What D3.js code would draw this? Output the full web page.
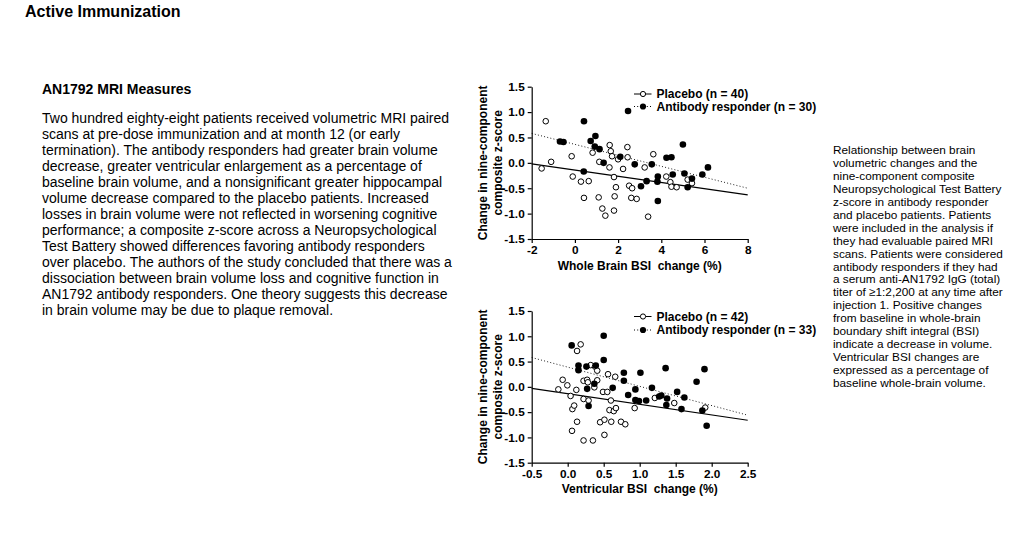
<!DOCTYPE html>
<html>
<head>
<meta charset="utf-8">
<script src="https://cdn.jsdelivr.net/npm/d3@7"></script>
<style>
  body { margin: 0; background: #fff; }
  svg { display: block; font-family: "Liberation Sans", Arial, Helvetica, sans-serif; }
</style>
</head>
<body>
<svg id="chart" width="1014" height="543"></svg>
<script>
// 数据：全脑 BSI 变化 (%) vs 九项综合 z 分数
const wbPlacebo = [
  [-1.35, 0.82], [-1.54, -0.11], [-1.10, 0.02], [-0.15, 0.13], [-0.10, -0.27], [0.28, -0.37],
  [0.64, -0.36], [0.42, -0.69], [0.82, 0.20], [1.13, 0.02], [1.10, -0.68], [1.27, -0.90],
  [1.41, -1.04], [1.61, 0.35], [1.66, 0.23], [1.72, 0.13], [1.60, -0.09], [1.81, -0.28],
  [1.90, -0.48], [1.84, -0.66], [1.81, -0.94], [2.00, 0.07], [2.23, -0.12], [2.43, 0.31],
  [2.44, 0.11], [2.51, -0.45], [2.65, -0.50], [2.61, -0.69], [2.86, -0.71], [3.23, -0.09],
  [3.63, 0.17], [3.39, -1.06], [4.23, -0.27], [4.42, -0.38], [4.47, -0.47], [4.71, -0.48],
  [5.22, -0.33], [5.42, -0.40]
];
const wbResponder = [
  [0.42, 0.82], [-0.69, 0.42], [-0.53, 0.41], [0.41, -0.17], [0.73, 0.43], [0.95, 0.53],
  [0.92, 0.32], [1.14, 0.27], [1.33, 0.00], [2.10, 0.12], [2.46, 1.02], [2.77, -0.03],
  [3.06, -0.46], [3.32, -0.36], [3.56, -0.03], [3.84, -0.27], [3.82, -0.37], [3.84, -0.75],
  [4.24, 0.10], [4.47, 0.11], [4.53, -0.23], [5.00, 0.36], [5.07, -0.21], [5.22, -0.48],
  [5.42, -0.31], [5.90, -0.23], [6.16, -0.09]
];
const wbPlaceboFit = [[-2, -0.02], [8, -0.63]];
const wbResponderFit = [[-2, 0.58], [8, -0.50]];

// 数据：脑室 BSI 变化 (%)
const vbPlacebo = [
  [-0.13, -0.05], [-0.07, 0.14], [-0.005, 0.03], [0.04, -0.18], [0.065, -0.44], [0.09, -0.37],
  [0.06, -0.87], [0.13, 0.71], [0.18, 0.84], [0.12, -0.06], [0.13, -0.69], [0.22, -1.06],
  [0.22, 0.12], [0.27, 0.14], [0.28, 0.09], [0.22, -0.24], [0.29, -0.27], [0.32, 0.43],
  [0.38, 0.40], [0.41, 0.32], [0.41, 0.13], [0.37, -0.01], [0.35, -1.06], [0.45, -0.70],
  [0.49, -0.10], [0.55, -0.10], [0.56, 0.25], [0.58, -0.46], [0.60, -0.27], [0.51, -0.65],
  [0.51, -0.95], [0.605, -0.69], [0.64, -0.48], [0.67, -0.42], [0.66, 0.20], [0.74, -0.69],
  [0.80, -0.74], [0.93, -0.42], [1.21, -0.22], [1.48, -0.32], [1.91, -0.41]
];
const vbResponder = [
  [0.055, 0.82], [0.15, 0.42], [0.15, 0.33], [0.26, 0.40], [0.27, -0.04], [0.37, 0.06],
  [0.39, 0.42], [0.29, -0.38], [0.50, 1.01], [0.50, 0.53], [0.625, -0.02], [0.78, 0.28],
  [0.78, 0.12], [1.01, 0.28], [0.94, -0.05], [0.84, -0.16], [0.94, -0.26], [0.99, -0.28],
  [1.09, -0.27], [1.17, -0.02], [1.27, -0.19], [1.30, -0.17], [1.38, -0.23], [1.37, -0.36],
  [1.36, 0.37], [1.52, -0.10], [1.62, -0.21], [1.58, -0.44], [1.79, 0.10], [1.90, 0.35],
  [1.87, -0.47], [1.93, -0.77]
];
const vbPlaceboFit = [[-0.5, -0.03], [2.5, -0.66]];
const vbResponderFit = [[-0.5, 0.58], [2.5, -0.56]];

const yTicks = [-1.5, -1.0, -0.5, 0.0, 0.5, 1.0, 1.5];
const wbTicks = [-2, 0, 2, 4, 6, 8];
const vbTicks = [-0.5, 0.0, 0.5, 1.0, 1.5, 2.0, 2.5];
const yTitle = ["Change in nine-component", "composite z-score"];

const paragraph = [
  "Two hundred eighty-eight patients received volumetric MRI paired",
  "scans at pre-dose immunization and at month 12 (or early",
  "termination). The antibody responders had greater brain volume",
  "decrease, greater ventricular enlargement as a percentage of",
  "baseline brain volume, and a nonsignificant greater hippocampal",
  "volume decrease compared to the placebo patients. Increased",
  "losses in brain volume were not reflected in worsening cognitive",
  "performance; a composite z-score across a Neuropsychological",
  "Test Battery showed differences favoring antibody responders",
  "over placebo. The authors of the study concluded that there was a",
  "dissociation between brain volume loss and cognitive function in",
  "AN1792 antibody responders. One theory suggests this decrease",
  "in brain volume may be due to plaque removal."
];
const caption = [
  "Relationship between brain",
  "volumetric changes and the",
  "nine-component composite",
  "Neuropsychological Test Battery",
  "z-score in antibody responder",
  "and placebo patients. Patients",
  "were included in the analysis if",
  "they had evaluable paired MRI",
  "scans. Patients were considered",
  "antibody responders if they had",
  "a serum anti-AN1792 IgG (total)",
  "titer of \u22651:2,200 at any time after",
  "injection 1. Positive changes",
  "from baseline in whole-brain",
  "boundary shift integral (BSI)",
  "indicate a decrease in volume.",
  "Ventricular BSI changes are",
  "expressed as a percentage of",
  "baseline whole-brain volume."
];

const svg = d3.select("#chart");
svg.append("rect").attr("width", 1014).attr("height", 543).attr("fill", "#fff");

// 标题和正文
svg.append("text").attr("x", 25).attr("y", 16.5)
  .attr("font-size", 16).attr("font-weight", "bold").text("Active Immunization");
svg.append("text").attr("x", 42).attr("y", 93.5)
  .attr("font-size", 14).attr("font-weight", "bold").text("AN1792 MRI Measures");

svg.append("g").selectAll("text")
  .data(paragraph)
  .enter()
  .append("text")
  .attr("x", 42)
  .attr("y", (d, i) => 123.3 + i * 16)
  .attr("font-size", 14)
  .text(d => d);

svg.append("g").selectAll("text")
  .data(caption)
  .enter()
  .append("text")
  .attr("x", 833)
  .attr("y", (d, i) => 154.4 + i * 12.9)
  .attr("font-size", 11.8)
  .text(d => d);

// 画一个散点面板
function drawPanel(p) {
  const x = d3.scaleLinear().domain(p.xDomain).range([531.7, 747.7]);
  const y = d3.scaleLinear().domain([-1.5, 1.5]).range([p.bottom, p.top]);
  const g = svg.append("g");
  const line = d3.line().x(d => x(d[0])).y(d => y(d[1]));

  // 回归线
  g.append("path").datum(p.placeboFit)
    .attr("d", line).attr("fill", "none")
    .attr("stroke", "#000").attr("stroke-width", 1.2);
  g.append("path").datum(p.responderFit)
    .attr("d", line).attr("fill", "none")
    .attr("stroke", "#222").attr("stroke-width", 1)
    .attr("stroke-dasharray", "1,2.2");

  // 坐标轴
  const xAxis = g.append("g")
    .attr("transform", `translate(0,${p.bottom})`)
    .call(d3.axisBottom(x).tickValues(p.xTicks).tickFormat(p.xFormat)
      .tickSize(4).tickPadding(3).tickSizeOuter(0));
  const yAxis = g.append("g")
    .attr("transform", `translate(${x(p.xDomain[0])},0)`)
    .call(d3.axisLeft(y).tickValues(yTicks).tickFormat(d3.format(".1f"))
      .tickSize(4).tickPadding(3).tickSizeOuter(0));
  [xAxis, yAxis].forEach(a => {
    a.selectAll("path, line").attr("stroke", "#000").attr("stroke-width", 1.2);
    a.selectAll("text").attr("fill", "#000").attr("font-size", 11.8)
      .attr("font-weight", "bold").attr("font-family", null);
    a.selectAll("text").text(function () { return this.textContent.replace("\u2212", "-"); });
  });

  // 轴标题
  g.append("text")
    .attr("x", (x.range()[0] + x.range()[1]) / 2)
    .attr("y", p.bottom + 30.5)
    .attr("text-anchor", "middle")
    .attr("font-size", 12).attr("font-weight", "bold")
    .style("white-space", "pre")
    .text(p.xTitle);
  const midY = (p.top + p.bottom) / 2;
  yTitle.forEach((t, i) => {
    g.append("text")
      .attr("transform", `translate(${487.3 + i * 15},${midY}) rotate(-90)`)
      .attr("text-anchor", "middle")
      .attr("font-size", 12).attr("font-weight", "bold")
      .text(t);
  });

  // 散点
  g.append("g").selectAll("circle")
    .data(p.placebo)
    .enter()
    .append("circle")
    .attr("cx", d => x(d[0])).attr("cy", d => y(d[1]))
    .attr("r", 2.8).attr("fill", "#fff").attr("stroke", "#000").attr("stroke-width", 1);
  g.append("g").selectAll("circle")
    .data(p.responder)
    .enter()
    .append("circle")
    .attr("cx", d => x(d[0])).attr("cy", d => y(d[1]))
    .attr("r", 3.3).attr("fill", "#000");

  // 图例
  const items = [
    { label: `Placebo (n = ${p.nPlacebo})`, filled: false, dash: null, y: p.legendY[0] },
    { label: `Antibody responder (n = ${p.nResponder})`, filled: true, dash: "1,2.2", y: p.legendY[1] }
  ];
  items.forEach(it => {
    g.append("line").attr("x1", 634).attr("x2", 651.5).attr("y1", it.y).attr("y2", it.y)
      .attr("stroke", "#000").attr("stroke-width", 1).attr("stroke-dasharray", it.dash);
    g.append("circle").attr("cx", 643).attr("cy", it.y)
      .attr("r", it.filled ? 3.1 : 2.6)
      .attr("fill", it.filled ? "#000" : "#fff")
      .attr("stroke", it.filled ? "none" : "#000");
    g.append("text").attr("x", 656.5).attr("y", it.y + 4.3)
      .attr("font-size", 12).attr("font-weight", "bold").text(it.label);
  });
}

drawPanel({
  top: 86.7, bottom: 239,
  xDomain: [-2, 8], xTicks: wbTicks, xFormat: d3.format("d"),
  xTitle: "Whole Brain BSI  change (%)",
  placebo: wbPlacebo, responder: wbResponder,
  placeboFit: wbPlaceboFit, responderFit: wbResponderFit,
  nPlacebo: 40, nResponder: 30, legendY: [94, 106.5]
});
drawPanel({
  top: 311, bottom: 462.7,
  xDomain: [-0.5, 2.5], xTicks: vbTicks, xFormat: d3.format(".1f"),
  xTitle: "Ventricular BSI  change (%)",
  placebo: vbPlacebo, responder: vbResponder,
  placeboFit: vbPlaceboFit, responderFit: vbResponderFit,
  nPlacebo: 42, nResponder: 33, legendY: [316.5, 330]
});
</script>
</body>
</html>
